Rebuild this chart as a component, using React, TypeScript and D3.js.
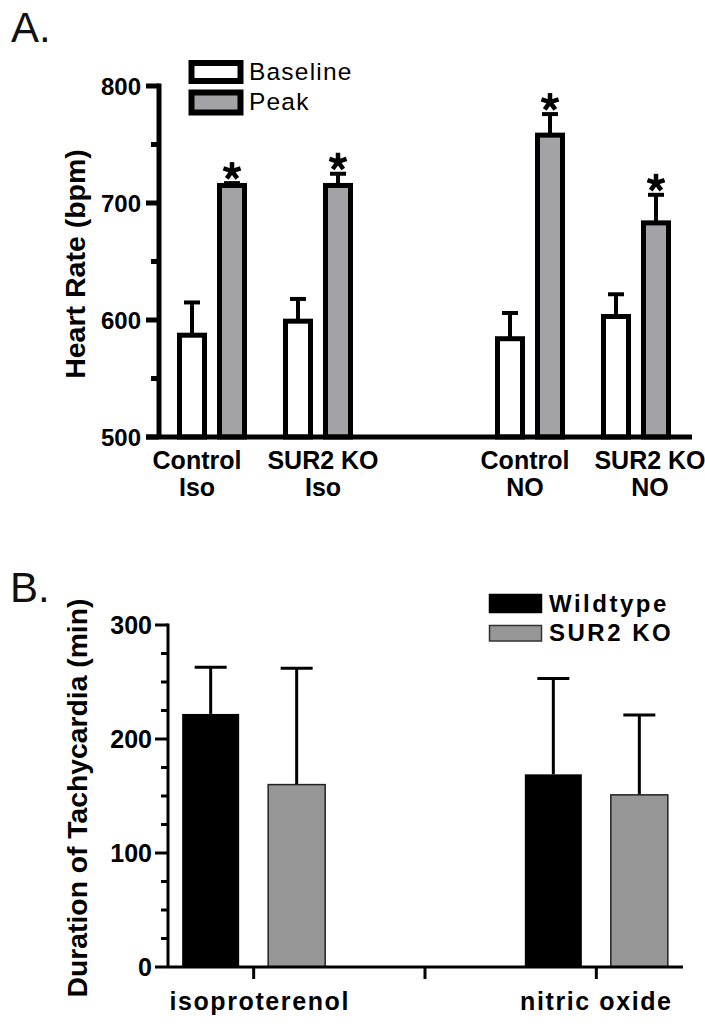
import React from "react";
import * as d3 from "d3";

// ---------- Panel A data ----------
const groupsA = ["Control Iso", "SUR2 KO Iso", "", "Control NO", "SUR2 KO NO"];
const labelsA = [
  ["Control", "Iso"],
  ["SUR2 KO", "Iso"],
  null,
  ["Control", "NO"],
  ["SUR2 KO", "NO"],
];
const labelOffsetA = [-15, 5, 0, -5, 14];
const baselineVals = [587, 599, null, 584, 603];
const baselineErr = [28, 19, null, 22, 19];
const peakVals = [715, 715, null, 758, 683];
const peakErr = [2, 10, null, 18, 24];
const seriesA = ["Baseline", "Peak"];
const ticksA = [500, 600, 700, 800];
const minorTicksA = [550, 650, 750];

// ---------- Panel B data ----------
const groupsB = ["isoproterenol", "", "nitric oxide"];
const wildtypeVals = [222, null, 169];
const wildtypeErr = [41, null, 84];
const koVals = [160, null, 151];
const koErr = [102, null, 70];
const seriesB = ["Wildtype", "SUR2 KO"];
const ticksB = [0, 100, 200, 300];
const minorTicksB = d3.range(25, 300, 25).filter((v) => v % 100 !== 0);

const FONT = "'Liberation Sans', Arial, Helvetica, sans-serif";
const GRAY_A = "#a3a3a7";
const GRAY_B = "#979797";

function Asterisk({ cx, cy, r = 9 }: { cx: number; cy: number; r?: number }) {
  const angles = [-90, -18, 54, 126, 198];
  return (
    <g>
      {angles.map((a, i) => {
        const rad = (a * Math.PI) / 180;
        return (
          <line
            key={i}
            x1={cx}
            y1={cy}
            x2={cx + r * Math.cos(rad)}
            y2={cy + r * Math.sin(rad)}
            stroke="#000"
            strokeWidth={4.5}
          />
        );
      })}
    </g>
  );
}

export default function App() {
  // Panel A scales
  const xA = d3.scaleBand<string>().domain(groupsA.map((g, i) => i + "")).range([159, 689]).padding(0);
  const yA = d3.scaleLinear().domain([500, 800]).range([437, 86]);
  const barOffA = 20;
  const barWA = 25;

  // Panel B scales
  const xB = d3.scaleBand<string>().domain(groupsB.map((g, i) => i + "")).range([168, 682]).padding(0);
  const yB = d3.scaleLinear().domain([0, 300]).range([967, 625]);
  const barOffB = 43;
  const barWB = 57;

  const cA = (i: number) => (xA(i + "") as number) + xA.bandwidth() / 2;
  const cB = (i: number) => (xB(i + "") as number) + xB.bandwidth() / 2;

  return (
    <svg
      width={705}
      height={1032}
      style={{ position: "absolute", left: 0, top: 0, background: "#fff" }}
      fontFamily={FONT}
    >
      <rect x={0} y={0} width={705} height={1032} fill="#fff" />
      {/* ================= Panel A ================= */}
      <text x={11} y={42} fontSize={42} fill="#111">A.</text>

      {/* legend */}
      {seriesA.map((s, i) => (
        <g key={s}>
          <rect
            x={191.5}
            y={i === 0 ? 63 : 92.5}
            width={49}
            height={i === 0 ? 18 : 20}
            fill={i === 0 ? "#fff" : GRAY_A}
            stroke="#000"
            strokeWidth={6}
          />
          <text x={249} y={i === 0 ? 80 : 110} fontSize={24.5} letterSpacing={1.2} fill="#000">
            {s}
          </text>
        </g>
      ))}

      {/* y axis */}
      <line x1={159} x2={159} y1={yA(800) - 2.5} y2={yA(500)} stroke="#000" strokeWidth={5} />
      {ticksA.map((t) => (
        <g key={t}>
          <line x1={146} x2={159} y1={yA(t)} y2={yA(t)} stroke="#000" strokeWidth={5} />
          <text x={141} y={yA(t) + 8.5} fontSize={24} fontWeight="bold" textAnchor="end">
            {t}
          </text>
        </g>
      ))}
      {minorTicksA.map((t) => (
        <line key={t} x1={151} x2={159} y1={yA(t)} y2={yA(t)} stroke="#000" strokeWidth={5} />
      ))}
      <text
        transform={`translate(85,264) rotate(-90)`}
        fontSize={28.5}
        fontWeight="bold"
        textAnchor="middle"
      >
        Heart Rate (bpm)
      </text>

      {/* bars */}
      {groupsA.map((g, i) => {
        if (baselineVals[i] == null) return null;
        const c = cA(i);
        const bv = baselineVals[i] as number;
        const be = baselineErr[i] as number;
        const pv = peakVals[i] as number;
        const pe = peakErr[i] as number;
        const bx = c - barOffA;
        const px = c + barOffA;
        return (
          <g key={g}>
            {/* baseline error */}
            <line x1={bx} x2={bx} y1={yA(bv)} y2={yA(bv + be)} stroke="#000" strokeWidth={4} />
            <line x1={bx - 8} x2={bx + 8} y1={yA(bv + be)} y2={yA(bv + be)} stroke="#000" strokeWidth={4} />
            <rect
              x={bx - barWA / 2}
              y={yA(bv)}
              width={barWA}
              height={yA(500) - yA(bv)}
              fill="#fff"
              stroke="#000"
              strokeWidth={5}
            />
            {/* peak error */}
            <line x1={px} x2={px} y1={yA(pv)} y2={yA(pv + pe)} stroke="#000" strokeWidth={4} />
            <line x1={px - 8} x2={px + 8} y1={yA(pv + pe)} y2={yA(pv + pe)} stroke="#000" strokeWidth={4} />
            <rect
              x={px - barWA / 2}
              y={yA(pv)}
              width={barWA}
              height={yA(500) - yA(pv)}
              fill={GRAY_A}
              stroke="#000"
              strokeWidth={5}
            />
            <Asterisk cx={px} cy={yA(pv + pe) - 12} />
          </g>
        );
      })}

      {/* x axis */}
      <line x1={146} x2={692} y1={yA(500)} y2={yA(500)} stroke="#000" strokeWidth={5} />
      {labelsA.map((l, i) =>
        l ? (
          <g key={i}>
            <text x={cA(i) + labelOffsetA[i]} y={469} fontSize={25} fontWeight="bold" textAnchor="middle">
              {l[0]}
            </text>
            <text x={cA(i) + labelOffsetA[i]} y={496} fontSize={25} fontWeight="bold" textAnchor="middle">
              {l[1]}
            </text>
          </g>
        ) : null
      )}

      {/* ================= Panel B ================= */}
      <text x={10} y={602} fontSize={42} fill="#111">B.</text>

      {/* legend */}
      {seriesB.map((s, i) => (
        <g key={s}>
          <rect
            x={489.5}
            y={i === 0 ? 594.5 : 625.5}
            width={52}
            height={i === 0 ? 18 : 15.5}
            fill={i === 0 ? "#000" : GRAY_B}
            stroke={i === 0 ? "#000" : "#333"}
            strokeWidth={1.5}
          />
          <text x={549} y={i === 0 ? 612 : 641} fontSize={24} fontWeight="bold" letterSpacing={2.5}>
            {s}
          </text>
        </g>
      ))}

      {/* y axis */}
      <line x1={168} x2={168} y1={yB(300) - 1.5} y2={yB(0)} stroke="#000" strokeWidth={3} />
      {ticksB.map((t) => (
        <g key={t}>
          <line x1={155} x2={168} y1={yB(t)} y2={yB(t)} stroke="#000" strokeWidth={3} />
          <text x={152} y={yB(t) + 9} fontSize={25} fontWeight="bold" textAnchor="end">
            {t}
          </text>
        </g>
      ))}
      {minorTicksB.map((t) => (
        <line key={t} x1={161} x2={168} y1={yB(t)} y2={yB(t)} stroke="#000" strokeWidth={3} />
      ))}
      <text
        transform={`translate(87,798) rotate(-90)`}
        fontSize={28.3}
        fontWeight="bold"
        textAnchor="middle"
      >
        Duration of Tachycardia (min)
      </text>

      {/* bars */}
      {groupsB.map((g, i) => {
        if (wildtypeVals[i] == null) return null;
        const c = cB(i);
        const wv = wildtypeVals[i] as number;
        const we = wildtypeErr[i] as number;
        const kv = koVals[i] as number;
        const ke = koErr[i] as number;
        const wx = c - barOffB;
        const kx = c + barOffB;
        return (
          <g key={g}>
            <line x1={wx} x2={wx} y1={yB(wv)} y2={yB(wv + we)} stroke="#000" strokeWidth={3} />
            <line x1={wx - 16} x2={wx + 16} y1={yB(wv + we)} y2={yB(wv + we)} stroke="#000" strokeWidth={3} />
            <rect x={wx - barWB / 2} y={yB(wv)} width={barWB} height={yB(0) - yB(wv)} fill="#000" />
            <line x1={kx} x2={kx} y1={yB(kv)} y2={yB(kv + ke)} stroke="#000" strokeWidth={3} />
            <line x1={kx - 16} x2={kx + 16} y1={yB(kv + ke)} y2={yB(kv + ke)} stroke="#000" strokeWidth={3} />
            <rect
              x={kx - barWB / 2}
              y={yB(kv)}
              width={barWB}
              height={yB(0) - yB(kv)}
              fill={GRAY_B}
              stroke="#222"
              strokeWidth={1.5}
            />
          </g>
        );
      })}

      {/* x axis */}
      <line x1={168} x2={683} y1={yB(0)} y2={yB(0)} stroke="#000" strokeWidth={3} />
      {groupsB.map((g, i) => (
        <g key={i}>
          <line x1={cB(i)} x2={cB(i)} y1={yB(0)} y2={yB(0) + 12} stroke="#000" strokeWidth={3} />
          {g ? (
            <text x={cB(i) + (i === 0 ? 6 : 0)} y={1010} fontSize={25} fontWeight="bold" textAnchor="middle" letterSpacing={1.6}>
              {g}
            </text>
          ) : null}
        </g>
      ))}
    </svg>
  );
}
